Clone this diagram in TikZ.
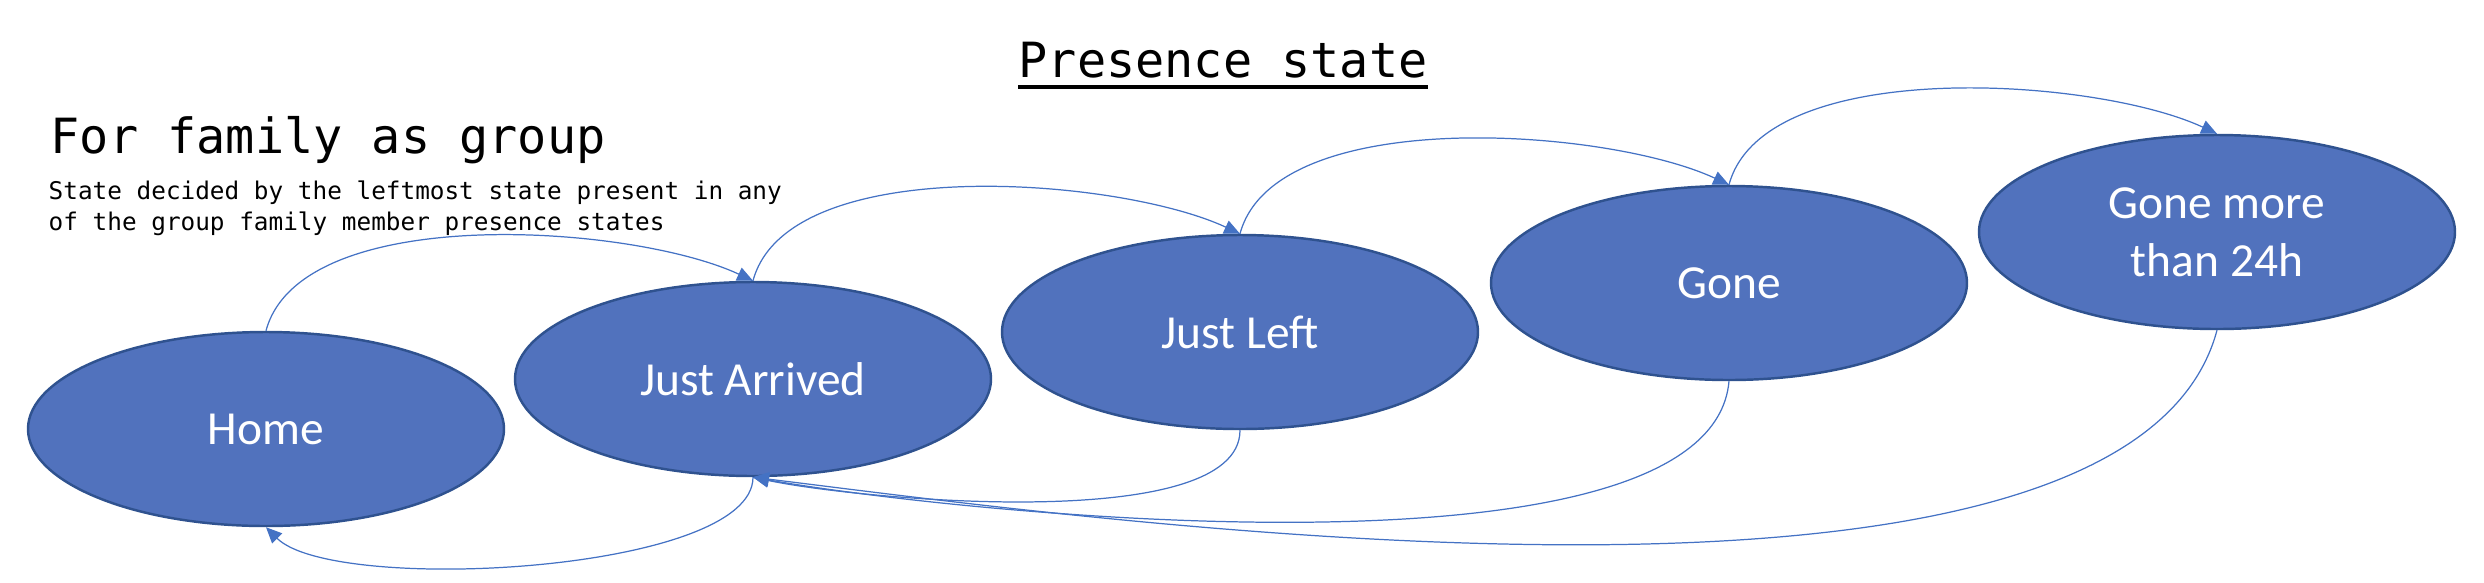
\documentclass[tikz,border=0pt]{standalone}
\usepackage{fontspec}
\setmainfont{Carlito}
\newfontfamily\codefont{DejaVu Sans Mono}
\usepackage{tikz}
\usetikzlibrary{shapes.geometric}
\usetikzlibrary{arrows.meta}
\definecolor{statefill}{RGB}{81,114,189}
\definecolor{stateline}{RGB}{47,82,143}
\definecolor{linkblue}{RGB}{68,114,196}

\begin{document}
\begin{tikzpicture}[
    state/.style={ellipse,draw=stateline,line width=0.7pt,fill=statefill,
      minimum width=4.76cm,minimum height=1.94cm,inner sep=0pt,
      text=white,font=\fontsize{13.5}{16.4}\selectfont,align=center},
    link/.style={linkblue,line width=0.35pt,-{Triangle[length=4.5pt,width=4pt]}},
    heading/.style={anchor=base west,inner sep=0pt,font=\codefont\fontsize{13.8}{16}\selectfont}
  ]
      \useasboundingbox (0,0) rectangle (24.84,-5.82);
      \node[heading] (title) at (10.18,-0.77) {Presence state};
      \draw[line width=1.1pt] ([yshift=-0.10cm]title.base west) -- ([yshift=-0.10cm]title.base east);
      \node[heading] (group) at (0.50,-1.53) {For family as group};
      \node[anchor=base west,inner sep=0pt,align=left,
        font=\codefont\fontsize{6.93}{8.8}\selectfont] (rule) at (0.48,-2.30)
        {State decided by the leftmost state present in any\\of the group family member presence states};

      \node[state] (home) at (2.66,-4.29) {Home};
      \node[state] (arrived) at (7.53,-3.79) {Just Arrived};
      \node[state] (left) at (12.40,-3.32) {Just Left};
      \node[state] (gone) at (17.29,-2.83) {Gone};
      \node[state] (gonelong) at (22.17,-2.32) {Gone more\\than 24h};

      \draw[link] (home.north) to[out=75,in=155,looseness=0.7] (arrived.north);
      \draw[link] (arrived.north) to[out=75,in=155,looseness=0.7] (left.north);
      \draw[link] (left.north) to[out=75,in=155,looseness=0.7] (gone.north);
      \draw[link] (gone.north) to[out=75,in=155,looseness=0.7] (gonelong.north);

      \draw[link] (arrived.south) to[out=-90,in=-45,looseness=0.5] (home.south);
      \draw[link] (left.south) to[out=-90,in=-12,looseness=0.55] (arrived.south);
      \draw[link] (gone.south) to[out=-95,in=-10,looseness=0.55] (arrived.south);
      \draw[link] (gonelong.south) to[out=-105,in=-7,looseness=0.6] (arrived.south);
    \end{tikzpicture}
\end{document}
